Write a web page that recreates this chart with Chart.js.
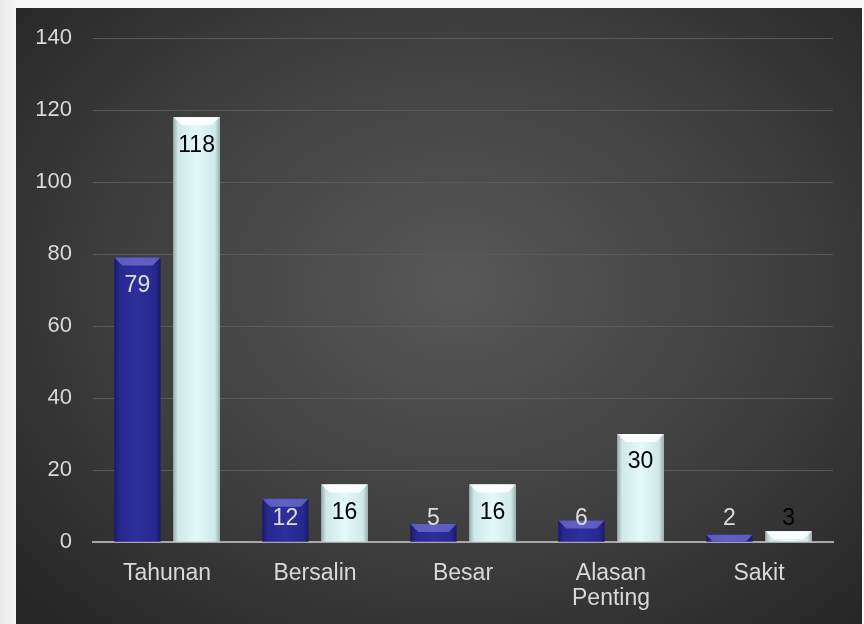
<!DOCTYPE html>
<html>
<head>
<meta charset="utf-8">
<script src="https://cdn.jsdelivr.net/npm/chart.js@4"></script>
<style>
  html, body { margin: 0; padding: 0; }
  body { width: 864px; height: 624px; background: linear-gradient(90deg, #e9e9e9 0px, #f6f6f6 16px); position: relative; overflow: hidden; }
  #panel {
    position: absolute; left: 16px; top: 8px; width: 846px; height: 616px;
    background: radial-gradient(ellipse 70% 75% at 52% 45%, #585858 0%, #3f3f3f 55%, #262626 100%);
  }
  canvas { display: block; }
</style>
</head>
<body>
<div id="panel"><canvas id="chart" width="846" height="616"></canvas></div>
<script>
var categories = ["Tahunan", "Bersalin", "Besar", ["Alasan", "Penting"], "Sakit"];
var seriesA = [79, 12, 5, 6, 2];
var seriesB = [118, 16, 16, 30, 3];
var yTicks = [0, 20, 40, 60, 80, 100, 120, 140];

// paint each bar over with a horizontal gradient and a bevel on top
var barShade = {
  id: 'barShade',
  afterDatasetDraw: function(chart, args) {
    var ctx = chart.ctx;
    args.meta.data.forEach(function(bar) {
      var left = bar.x - bar.width / 2, right = bar.x + bar.width / 2;
      var g = ctx.createLinearGradient(left, 0, right, 0);
      if (args.index === 0) {
        g.addColorStop(0, '#1a1a66');
        g.addColorStop(0.12, '#282890');
        g.addColorStop(0.5, '#2e2e9c');
        g.addColorStop(0.88, '#282890');
        g.addColorStop(1, '#1a1a66');
      } else {
        g.addColorStop(0, '#9fb0b0');
        g.addColorStop(0.1, '#cfe8e8');
        g.addColorStop(0.5, '#e2fafa');
        g.addColorStop(0.9, '#cfe8e8');
        g.addColorStop(1, '#9fb0b0');
      }
      var h = Math.min(8, bar.base - bar.y);
      ctx.save();
      ctx.fillStyle = g;
      ctx.fillRect(left, bar.y, bar.width, bar.base - bar.y);
      ctx.fillStyle = args.index === 0 ? 'rgba(130,130,225,0.6)' : 'rgba(255,255,255,0.85)';
      ctx.beginPath();
      ctx.moveTo(left, bar.y);
      ctx.lineTo(right, bar.y);
      ctx.lineTo(right - h, bar.y + h);
      ctx.lineTo(left + h, bar.y + h);
      ctx.closePath();
      ctx.fill();
      ctx.restore();
    });
  }
};

var valueLabels = {
  id: 'valueLabels',
  afterDatasetsDraw: function(chart) {
    var ctx = chart.ctx;
    ctx.save();
    ctx.font = '23px "Liberation Sans", Arial, sans-serif';
    ctx.textAlign = 'center';
    ctx.textBaseline = 'middle';
    chart.data.datasets.forEach(function(ds, i) {
      chart.getDatasetMeta(i).data.forEach(function(bar, j) {
        var y = Math.min(bar.y + 28, bar.base - 23);
        ctx.fillStyle = i === 0 ? '#dcdcdc' : '#000000';
        ctx.fillText(ds.data[j], bar.x, y);
      });
    });
    ctx.restore();
  }
};

var ctx = document.getElementById('chart');
var chart = new Chart(ctx, {
  type: 'bar',
  data: {
    labels: categories,
    datasets: [
      { label: 'A', data: seriesA, backgroundColor: '#2a2a92', borderWidth: 0 },
      { label: 'B', data: seriesB, backgroundColor: '#d6f0f0', borderWidth: 0 }
    ]
  },
  options: {
    responsive: false,
    animation: false,
    events: [],
    layout: { padding: { top: 30, right: 29, bottom: 0, left: 0 } },
    categoryPercentage: 0.8,
    barPercentage: 0.78,
    plugins: { legend: { display: false }, tooltip: { enabled: false } },
    scales: {
      x: {
        grid: { display: false, drawTicks: false },
        border: { display: true, color: '#a8a8a8', width: 2 },
        ticks: { color: '#d9d9d9', font: { family: '"Liberation Sans", Arial, sans-serif', size: 23, lineHeight: 1.1 }, padding: 19, maxRotation: 0 },
        afterFit: function(scale) { scale.height = 82; scale.paddingLeft = 0; scale.paddingRight = 0; }
      },
      y: {
        min: 0, max: 140,
        afterBuildTicks: function(scale) { scale.ticks = yTicks.map(function(v) { return { value: v }; }); },
        grid: { color: '#5a5a5a', lineWidth: 1, drawTicks: false },
        border: { display: false },
        ticks: { color: '#d9d9d9', font: { family: '"Liberation Sans", Arial, sans-serif', size: 22 }, padding: 21 },
        afterFit: function(scale) { scale.width = 77; scale.paddingTop = 0; scale.paddingBottom = 0; }
      }
    }
  },
  plugins: [barShade, valueLabels]
});
</script>
</body>
</html>
